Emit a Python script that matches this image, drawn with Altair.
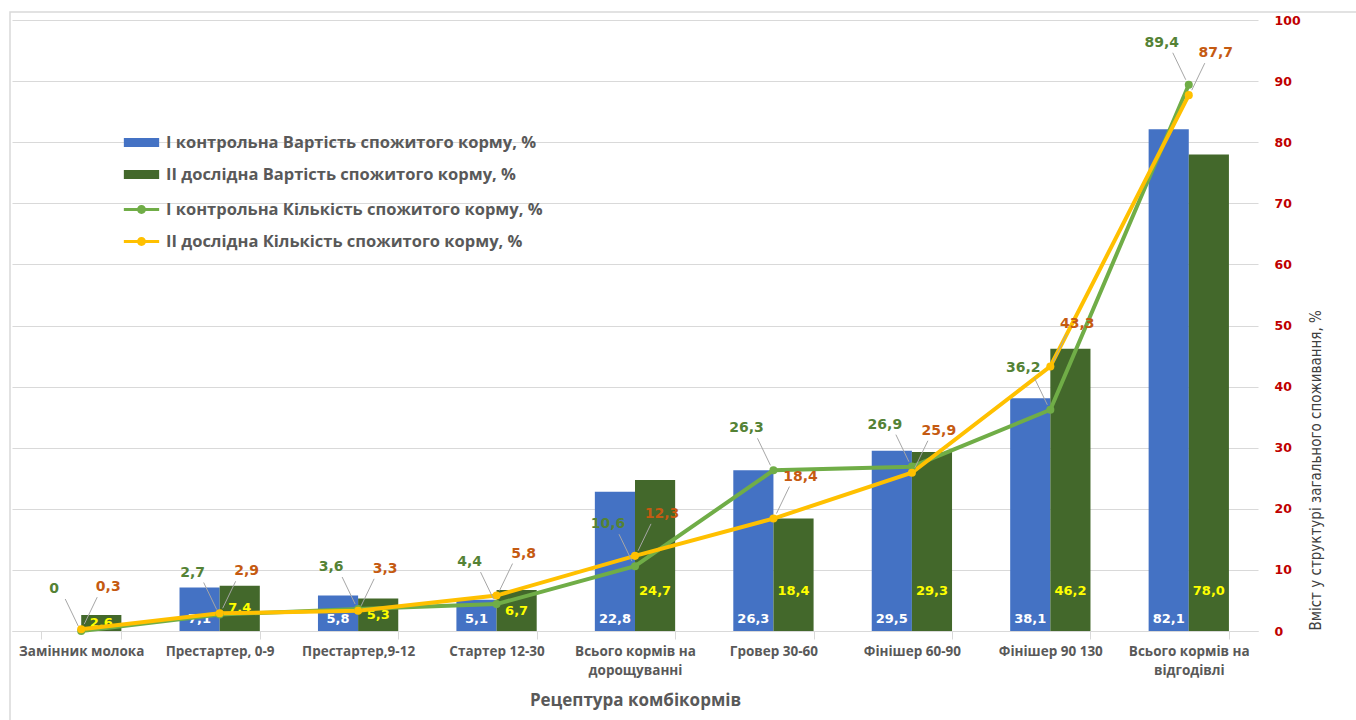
import altair as alt
import pandas as pd

# Feed recipes (x categories)
categories = [
    "Замінник молока",
    "Престартер, 0-9",
    "Престартер,9-12",
    "Стартер 12-30",
    "Всього кормів на дорощуванні",
    "Гровер 30-60",
    "Фінішер 60-90",
    "Фінішер 90 130",
    "Всього кормів на відгодівлі",
]

bar_series = [
    "I контрольна Вартість спожитого корму, %",
    "II дослідна Вартість спожитого корму, %",
]
line_series = [
    "I контрольна Кількість спожитого корму, %",
    "II дослідна Кількість спожитого корму, %",
]

# Cost of consumed feed, % (bars)
cost_control = [None, 7.1, 5.8, 5.1, 22.8, 26.3, 29.5, 38.1, 82.1]
cost_trial = [2.6, 7.4, 5.3, 6.7, 24.7, 18.4, 29.3, 46.2, 78.0]
# Amount of consumed feed, % (lines)
amount_control = [0, 2.7, 3.6, 4.4, 10.6, 26.3, 26.9, 36.2, 89.4]
amount_trial = [0.3, 2.9, 3.3, 5.8, 12.3, 18.4, 25.9, 43.3, 87.7]

y_ticks = list(range(0, 101, 10))

BLUE = "#4472C4"
DARK_GREEN = "#43682B"
LINE_GREEN = "#70AD47"
LINE_YELLOW = "#FFC000"
LABEL_GREEN = "#548235"
LABEL_ORANGE = "#C55A11"
GREY_TEXT = "#595959"
GRID = "#D9D9D9"

bars_df = pd.DataFrame(
    [{"cat": c, "series": bar_series[0], "v": v} for c, v in zip(categories, cost_control)]
    + [{"cat": c, "series": bar_series[1], "v": v} for c, v in zip(categories, cost_trial)]
)
lines_df = pd.DataFrame(
    [{"cat": c, "series": line_series[0], "v": v} for c, v in zip(categories, amount_control)]
    + [{"cat": c, "series": line_series[1], "v": v} for c, v in zip(categories, amount_trial)]
)

label_expr = "datum.v == 0 ? '0' : replace(format(datum.v, '.1f'), '.', ',')"

x_axis = alt.Axis(
    title="Рецептура комбікормів",
    labelAngle=0,
    labelFont="Open Sans",
    labelFontWeight="bold",
    labelFontSize=13.5,
    labelColor=GREY_TEXT,
    labelPadding=5,
    labelLineHeight=19,
    labelLimit=300,
    labelExpr="indexof(datum.label, 'Всього кормів на ') == 0 ? ['Всього кормів на', substring(datum.label, 17)] : datum.label",
    tickBand="extent",
    tickColor=GRID,
    tickSize=8,
    domainColor=GRID,
    grid=False,
    titleFont="Open Sans",
    titleFontSize=17,
    titleFontWeight="bold",
    titleColor=GREY_TEXT,
    titlePadding=16,
)

y_axis = alt.Axis(
    orient="right",
    values=y_ticks,
    grid=True,
    gridColor=GRID,
    domain=False,
    ticks=False,
    labelColor="#C00000",
    labelFont="DejaVu Sans",
    labelFontWeight="bold",
    labelFontSize=12.5,
    labelPadding=16,
    labelAlign="left",
    title="Вміст у структурі загального споживання, %",
    titleFont="DejaVu Sans Condensed, Liberation Sans",
    titleFontSize=15,
    titleFontWeight="normal",
    titleColor="#404040",
    titleAngle=270,
    titleX=57,
    titleY=610,
    titleAlign="left",
    titleBaseline="middle",
)

x_enc = alt.X(
    "cat:N",
    sort=categories,
    scale=alt.Scale(paddingInner=0.42, paddingOuter=0.21),
    axis=x_axis,
)
y_scale = alt.Scale(domain=[0, 100])


def y_enc(field):
    return alt.Y(field, scale=y_scale, axis=y_axis)


x_off = alt.XOffset("series:N", sort=bar_series)

rect_symbol = "M-1.07,-0.27H1.07V0.27H-1.07Z"
line_symbol = (
    "M-1.07,-0.09H1.07V0.09H-1.07Z "
    "M-0.27,0A0.27,0.27 0 1,1 0.27,0A0.27,0.27 0 1,1 -0.27,0Z"
)

legend_common = dict(
    title=None,
    orient="none",
    symbolSize=1089,
    symbolStrokeWidth=0,
    labelFont="Open Sans",
    labelFontSize=16.5,
    labelFontWeight="bold",
    labelColor=GREY_TEXT,
    labelOffset=8,
    labelLimit=600,
    rowPadding=7,
    padding=0,
)

base_bars = alt.Chart(bars_df)

bars = base_bars.mark_bar().encode(
    x=x_enc,
    xOffset=x_off,
    y=y_enc("v:Q"),
    color=alt.Color(
        "series:N",
        scale=alt.Scale(domain=bar_series, range=[BLUE, DARK_GREEN]),
        legend=alt.Legend(symbolType=rect_symbol, legendX=113, legendY=106, **legend_common),
    ),
)

blue_labels = (
    base_bars.transform_filter(alt.datum.series == bar_series[0])
    .transform_filter("isValid(datum.v)")
    .transform_calculate(txt=label_expr, base="0")
    .mark_text(font="DejaVu Sans", fontWeight="bold", fontSize=13, color="white",
               baseline="bottom", dy=-5)
    .encode(x=x_enc, xOffset=x_off, y=y_enc("base:Q"), text="txt:N")
)

green_labels = (
    base_bars.transform_filter(alt.datum.series == bar_series[1])
    .transform_calculate(txt=label_expr, ly="min(datum.v / 2, 6.5)")
    .mark_text(font="DejaVu Sans", fontWeight="bold", fontSize=13, color="#FFFF00",
               baseline="middle")
    .encode(x=x_enc, xOffset=x_off, y=y_enc("ly:Q"), text="txt:N")
)

base_lines = alt.Chart(lines_df)
line_colors = [LINE_GREEN, LINE_YELLOW]


def series_line(i):
    return (
        base_lines.transform_filter(alt.datum.series == line_series[i])
        .mark_line(strokeWidth=4, color=line_colors[i])
        .encode(x=x_enc, y=y_enc("v:Q"))
    )


points = base_lines.mark_point(filled=True, size=65, opacity=1).encode(
    x=x_enc,
    y=y_enc("v:Q"),
    color=alt.Color(
        "series:N",
        scale=alt.Scale(domain=line_series, range=line_colors),
        legend=alt.Legend(symbolType=line_symbol, legendX=113, legendY=173, **legend_common),
    ),
)


def leader(series, sign):
    return (
        base_lines.transform_filter(alt.datum.series == series)
        .mark_rule(color="#A6A6A6", strokeWidth=1,
                   xOffset=sign * 3, yOffset=-5, x2Offset=sign * 16, y2Offset=-32)
        .encode(x=x_enc, x2="cat:N", y=y_enc("v:Q"), y2="v:Q")
    )


def value_labels(series, sign, color):
    return (
        base_lines.transform_filter(alt.datum.series == series)
        .transform_calculate(txt=label_expr)
        .mark_text(font="DejaVu Sans", fontWeight="bold", fontSize=14, color=color,
                   dx=sign * 27, dy=-42)
        .encode(x=x_enc, y=y_enc("v:Q"), text="txt:N")
    )


line_group = alt.layer(
    series_line(0),
    series_line(1),
    points,
    leader(line_series[0], -1),
    leader(line_series[1], 1),
    value_labels(line_series[0], -1, LABEL_GREEN),
    value_labels(line_series[1], 1, LABEL_ORANGE),
)
bar_group = alt.layer(bars, blue_labels, green_labels)

frame = alt.Chart(pd.DataFrame({"k": [0]})).mark_rect(
    fill=None, stroke=GRID, strokeWidth=1.5
).encode(
    x=alt.value(-2), x2=alt.value(1400), y=alt.value(-8), y2=alt.value(800)
)

chart = (
    alt.layer(frame, bar_group, line_group)
    .resolve_scale(color="independent")
    .properties(
        width=1246,
        height=611,
        autosize=alt.AutoSizeParams(type="none"),
        padding={"left": 12, "top": 20, "right": 98, "bottom": 89},
        background="white",
    )
    .configure_view(stroke=None)
)

chart.save("out.html", embed_options={"renderer": "svg", "actions": False})
